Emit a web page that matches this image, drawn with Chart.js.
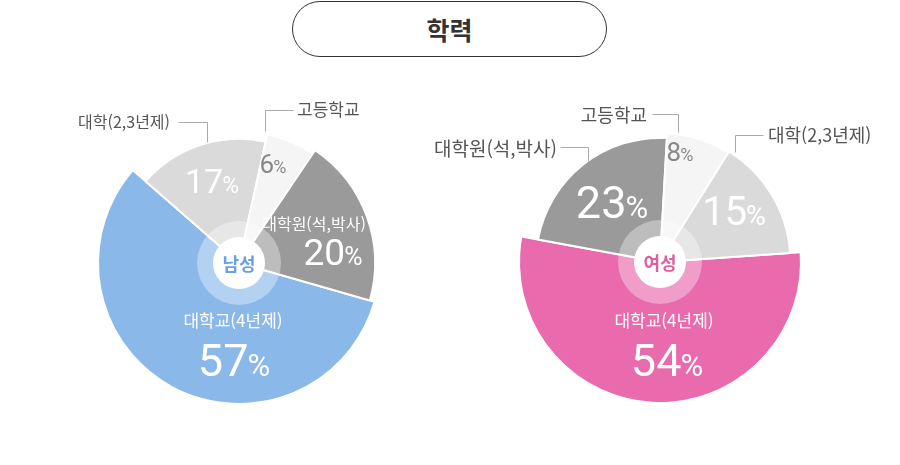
<!DOCTYPE html>
<html lang="ko">
<head>
<meta charset="utf-8">
<title>학력</title>
<script src="https://cdn.jsdelivr.net/npm/chart.js@4/dist/chart.umd.min.js"></script>
<style>
  html, body { margin: 0; padding: 0; background: #fff; }
  body { width: 900px; height: 465px; position: relative; overflow: hidden; font-family: "Noto Sans CJK KR", sans-serif; }
  #title { position: absolute; left: 292px; top: 1px; width: 313px; height: 54px; border: 1px solid #333; border-radius: 28px;
           text-align: center; line-height: 54px; font-size: 25px; font-weight: bold; color: #333; }
  .box { position: absolute; top: 60px; height: 405px; }
  #boxMale { left: 0; width: 450px; }
  #boxFemale { left: 400px; width: 500px; }
</style>
</head>
<body>
<div id="title">학력</div>
<div class="box" id="boxMale"><canvas id="chartMale" width="450" height="405"></canvas></div>
<div class="box" id="boxFemale"><canvas id="chartFemale" width="500" height="405"></canvas></div>
<script>
// 남성 (시계방향 순서)
const maleLabels = ["대학교(4년제)", "대학(2,3년제)", "고등학교", "대학원(석,박사)"];
const maleValues = [57, 17, 6, 20];
// 여성 (시계방향 순서)
const femaleLabels = ["대학교(4년제)", "대학원(석,박사)", "고등학교", "대학(2,3년제)"];
const femaleValues = [54, 23, 8, 15];

const NUM_FONT = "Roboto, 'Noto Sans CJK KR', sans-serif";
const KR_FONT = "'Noto Sans CJK KR', sans-serif";

// 조각마다 바깥 반지름을 다르게
const sliceRadius = {
  id: "sliceRadius",
  afterDatasetsUpdate(chart, args, opts) {
    const meta = chart.getDatasetMeta(0);
    meta.data.forEach((arc, i) => {
      arc.outerRadius = meta.controller.outerRadius * opts.scale[i];
    });
  }
};

// 가운데 원, 이름, 퍼센트, 지시선
const sliceText = {
  id: "sliceText",
  afterDraw(chart, args, opts) {
    const ctx = chart.ctx;
    const first = chart.getDatasetMeta(0).data[0];
    const cx = first.x, cy = first.y;
    const labels = chart.data.labels;
    const values = chart.data.datasets[0].data;

    ctx.save();
    ctx.fillStyle = "rgba(255,255,255,0.35)";
    ctx.beginPath(); ctx.arc(cx, cy, 42, 0, Math.PI * 2); ctx.fill();
    ctx.fillStyle = "#fff";
    ctx.beginPath(); ctx.arc(cx, cy, 26, 0, Math.PI * 2); ctx.fill();
    ctx.fillStyle = opts.centerColor;
    ctx.font = "bold 18px " + KR_FONT;
    ctx.textAlign = "center";
    ctx.textBaseline = "middle";
    ctx.fillText(opts.centerText, cx, cy + 1);

    opts.items.forEach((it, i) => {
      // 지시선
      if (it.leader) {
        ctx.strokeStyle = "#aaa";
        ctx.lineWidth = 1;
        ctx.beginPath();
        it.leader.forEach((p, k) => {
          const x = Math.round(cx + p[0]) + 0.5, y = Math.round(cy + p[1]) + 0.5;
          if (k === 0) ctx.moveTo(x, y); else ctx.lineTo(x, y);
        });
        ctx.stroke();
      }
      // 이름
      ctx.fillStyle = it.nameColor;
      ctx.font = it.nameSize + "px " + KR_FONT;
      ctx.textAlign = it.nameAlign;
      ctx.textBaseline = "middle";
      ctx.fillText(labels[i], cx + it.name[0], cy + it.name[1]);
      // 퍼센트
      const s = it.valueSize, ps = Math.round(s * 0.68);
      const num = String(values[i]);
      ctx.font = s + "px " + NUM_FONT;
      const w1 = ctx.measureText(num).width;
      ctx.font = ps + "px " + NUM_FONT;
      const w2 = ctx.measureText("%").width;
      const gap = -1;
      const x0 = cx + it.value[0] - (w1 + w2 + gap) / 2;
      const base = cy + it.value[1] + s * 0.36;
      ctx.fillStyle = it.valueColor;
      ctx.textAlign = "left";
      ctx.textBaseline = "alphabetic";
      ctx.font = s + "px " + NUM_FONT;
      ctx.fillText(num, x0, base);
      ctx.font = ps + "px " + NUM_FONT;
      ctx.fillText("%", x0 + w1 + gap, base);
    });
    ctx.restore();
  }
};

function makePie(id, labels, values, colors, rotation, padding, pluginOpts) {
  return new Chart(document.getElementById(id), {
    type: "pie",
    data: {
      labels,
      datasets: [{
        data: values,
        backgroundColor: colors,
        borderColor: "#fff",
        borderWidth: 2
      }]
    },
    options: {
      responsive: false,
      animation: false,
      rotation,
      layout: { padding },
      plugins: {
        legend: { display: false },
        tooltip: { enabled: false },
        sliceRadius: { scale: pluginOpts.scale },
        sliceText: pluginOpts
      }
    },
    plugins: [sliceRadius, sliceText]
  });
}

makePie("chartMale", maleLabels, maleValues,
  ["#8ab8e9", "#dadada", "#f5f5f5", "#9a9a9a"], 106,
  { left: 97, right: 69, top: 61, bottom: 60 },
  {
    scale: [1.0, 0.88, 0.935, 0.965],
    centerText: "남성",
    centerColor: "#6a9fe0",
    items: [
      { name: [-6, 58], nameAlign: "center", nameSize: 17, nameColor: "#fff",
        value: [-5, 97], valueSize: 45, valueColor: "#fff" },
      { name: [-69, -141], nameAlign: "right", nameSize: 16, nameColor: "#555",
        leader: [[-61, -141], [-32, -141], [-32, -121]],
        value: [-27, -82], valueSize: 34, valueColor: "#fff" },
      { name: [58, -153], nameAlign: "left", nameSize: 17, nameColor: "#555",
        leader: [[54, -153], [26, -153], [26, -132]],
        value: [34, -99], valueSize: 26, valueColor: "#888" },
      { name: [75, -39], nameAlign: "center", nameSize: 16, nameColor: "#fff",
        value: [94, -11], valueSize: 37, valueColor: "#fff" }
    ]
  });

makePie("chartFemale", femaleLabels, femaleValues,
  ["#e96bad", "#9a9a9a", "#f5f5f5", "#dadada"], 86,
  { left: 118, right: 98, top: 60, bottom: 61 },
  {
    scale: [1.0, 0.88, 0.915, 0.925],
    centerText: "여성",
    centerColor: "#e0609f",
    items: [
      { name: [4, 59], nameAlign: "center", nameSize: 17, nameColor: "#fff",
        value: [7, 98], valueSize: 45, valueColor: "#fff" },
      { name: [-103, -113], nameAlign: "right", nameSize: 19, nameColor: "#555",
        leader: [[-100, -115], [-72, -115], [-72, -101]],
        value: [-48, -60], valueSize: 45, valueColor: "#fff" },
      { name: [-13, -147], nameAlign: "right", nameSize: 18, nameColor: "#555",
        leader: [[-8, -148], [18, -148], [18, -130]],
        value: [20, -110], valueSize: 26, valueColor: "#888" },
      { name: [108, -127], nameAlign: "left", nameSize: 18, nameColor: "#555",
        leader: [[103, -127], [75, -127], [75, -110]],
        value: [74, -51], valueSize: 40, valueColor: "#fff" }
    ]
  });
</script>
</body>
</html>
